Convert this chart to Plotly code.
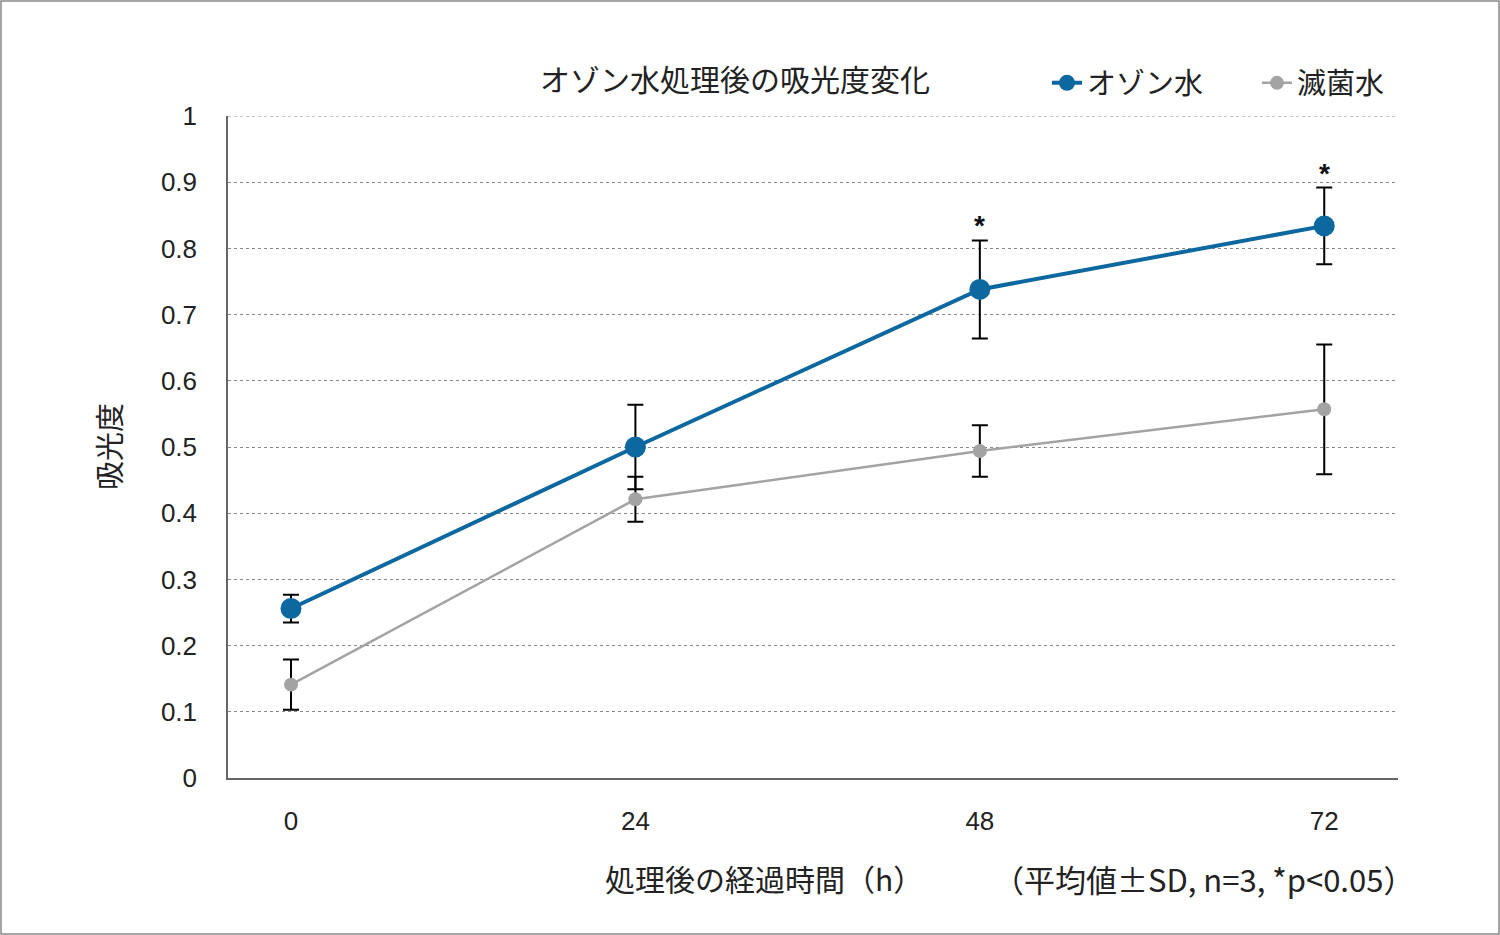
import plotly.graph_objects as go

hours = [0, 24, 48, 72]
ozone_mean = [0.256, 0.500, 0.738, 0.834]
ozone_sd = [0.021, 0.064, 0.074, 0.058]
sterile_mean = [0.141, 0.421, 0.494, 0.557]
sterile_sd = [0.038, 0.034, 0.039, 0.098]
significant = [False, False, True, True]
y_ticks = [0, 0.1, 0.2, 0.3, 0.4, 0.5, 0.6, 0.7, 0.8, 0.9, 1]
y_tick_text = ["0", "0.1", "0.2", "0.3", "0.4", "0.5", "0.6", "0.7", "0.8", "0.9", "1"]
y_max = 1

JP = "Noto Sans CJK JP"
NUM = "Liberation Sans, Arial"
BLUE = "#0d68a0"
GRAY = "#a3a3a3"

fig = go.Figure()
fig.add_trace(go.Scatter(
    x=hours, y=sterile_mean, name="滅菌水", mode="lines+markers",
    line=dict(color=GRAY, width=2.5),
    marker=dict(color=GRAY, size=14),
    error_y=dict(type="data", array=sterile_sd, color="black", thickness=2, width=8),
))
fig.add_trace(go.Scatter(
    x=hours, y=ozone_mean, name="オゾン水", mode="lines+markers",
    line=dict(color=BLUE, width=4),
    marker=dict(color=BLUE, size=21),
    error_y=dict(type="data", array=ozone_sd, color="black", thickness=2, width=8),
))

annotations = []
for h, m, s, sig in zip(hours, ozone_mean, ozone_sd, significant):
    if sig:
        annotations.append(dict(x=h, y=m + s, xref="x", yref="y", text="<b>*</b>",
                                showarrow=False, yanchor="bottom", yshift=-3,
                                font=dict(family=NUM, size=28, color="#111")))

annotations += [
    dict(x=(764 - 228) / 1170, y=(778 - 878) / 662, xref="paper", yref="paper",
         text="処理後の経過時間（h）", showarrow=False, xanchor="center", yanchor="middle",
         font=dict(family=JP, size=30, color="#222")),
    dict(x=(1416 - 228) / 1170, y=(778 - 878) / 662, xref="paper", yref="paper",
         text="（平均値±SD, n=3, *p<0.05）", showarrow=False, xanchor="right", yanchor="middle",
         font=dict(family=JP, size=31, color="#222")),
    dict(x=(108 - 228) / 1170, y=(778 - 447) / 662, xref="paper", yref="paper",
         text="吸光度", showarrow=False, textangle=-90, xanchor="center", yanchor="middle",
         font=dict(family=JP, size=29, color="#222")),
]

fig.update_layout(
    width=1500, height=935,
    paper_bgcolor="white", plot_bgcolor="white",
    margin=dict(l=228, r=102, t=116, b=157),
    title=dict(text="オゾン水処理後の吸光度変化", x=735 / 1500, y=1 - 80 / 935,
               xanchor="center", yanchor="middle",
               font=dict(family=JP, size=30, color="#222")),
    legend=dict(orientation="h", x=(1047 - 228) / 1170, y=(778 - 83) / 662,
                xanchor="left", yanchor="middle",
                traceorder="reversed", font=dict(family=JP, size=29, color="#222"),
                bgcolor="rgba(0,0,0,0)", entrywidth=165, entrywidthmode="pixels"),
    annotations=annotations,
    shapes=[
        dict(type="rect", xref="paper", yref="paper",
             x0=(1 - 228) / 1170, x1=(1499 - 228) / 1170,
             y0=(778 - 934) / 662, y1=(778 - 1) / 662,
             line=dict(color="#888", width=1.5), layer="below"),
        dict(type="line", xref="paper", yref="y", x0=0, x1=1, y0=y_max, y1=y_max,
             line=dict(color="#888", width=1, dash="dot"), layer="below"),
    ],
    showlegend=True,
)
fig.update_xaxes(range=[-4.39, 77.14], tickvals=hours, ticktext=[str(h) for h in hours],
                 showgrid=False, zeroline=False, showline=True, linecolor="#666", linewidth=1.5,
                 ticks="", ticklabelstandoff=19,
                 tickfont=dict(family=NUM, size=26, color="#222"))
fig.update_yaxes(range=[0, y_max], tickvals=y_ticks, ticktext=y_tick_text,
                 showgrid=True, gridcolor="#888", griddash="dot", gridwidth=1,
                 zeroline=False, showline=True, linecolor="#666", linewidth=1.5,
                 ticks="", ticklabelstandoff=24,
                 tickfont=dict(family=NUM, size=26, color="#222"))

fig.write_html("out.html", config={"displayModeBar": False},
               post_script="document.body.style.margin='0';document.body.style.overflow='hidden';")
